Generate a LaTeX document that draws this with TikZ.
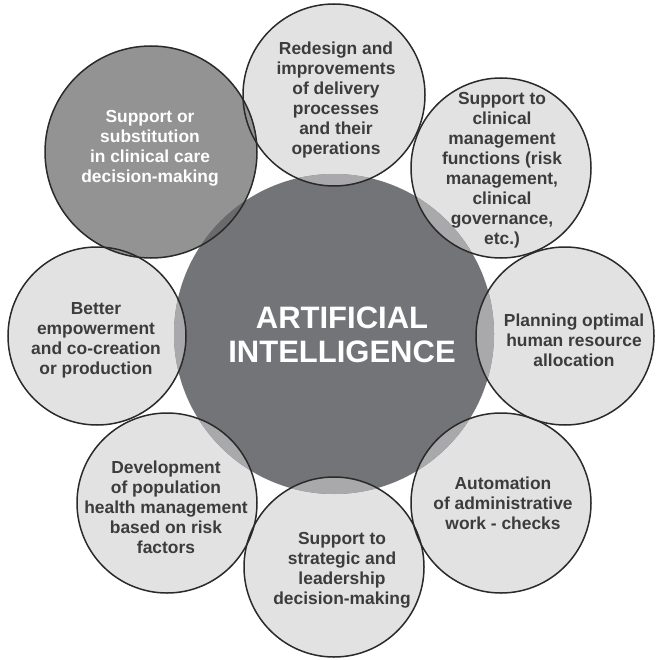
\documentclass[tikz,border=0pt]{standalone}
\usepackage{fontspec}
\setmainfont{Liberation Sans}
\definecolor{lightc}{HTML}{E2E2E3}
\definecolor{overc}{HTML}{A9A9AB}
\definecolor{centc}{HTML}{737477}
\definecolor{darkc}{HTML}{939394}
\definecolor{darkover}{HTML}{6A6A6C}
\definecolor{edgec}{HTML}{2A2A2A}
\definecolor{txtc}{HTML}{3C3C3C}
\tikzset{
  otext/.style={align=center, text=txtc, font=\bfseries\fontsize{17.4}{20}\selectfont, inner sep=0pt},
  wtext/.style={align=center, text=white, font=\bfseries\fontsize{17.4}{20}\selectfont, inner sep=0pt},
  ctext/.style={align=center, text=white, font=\bfseries\fontsize{31}{34}\selectfont, inner sep=0pt},
  rim/.style={draw=edgec, line width=1.5pt}
}
\begin{document}
\begin{tikzpicture}[x=1pt,y=-1pt]
\useasboundingbox (0,0) rectangle (655,660);
\coordinate (cc) at (334,334);
\coordinate (c1) at (334,95);
\coordinate (c2) at (501,168);
\coordinate (c3) at (565,336);
\coordinate (c4) at (501,503);
\coordinate (c5) at (334,567);
\coordinate (c6) at (167,503);
\coordinate (c7) at (97,336);
\coordinate (c8) at (151,152);
% fills
\fill[lightc] (c1) circle[radius=91];
\fill[lightc] (c2) circle[radius=90];
\fill[lightc] (c3) circle[radius=89];
\fill[lightc] (c4) circle[radius=90];
\fill[lightc] (c5) circle[radius=90];
\fill[lightc] (c6) circle[radius=90];
\fill[lightc] (c7) circle[radius=89];
\fill[darkc] (c8) circle[radius=106];
\fill[centc] (cc) circle[radius=160];
\begin{scope}
\clip (cc) circle[radius=160];
\fill[overc] (c1) circle[radius=91];
\fill[overc] (c2) circle[radius=90];
\fill[overc] (c3) circle[radius=89];
\fill[overc] (c4) circle[radius=90];
\fill[overc] (c5) circle[radius=90];
\fill[overc] (c6) circle[radius=90];
\fill[overc] (c7) circle[radius=89];
\fill[darkover] (c8) circle[radius=106];
\end{scope}
% outlines
\draw[rim] (c1) circle[radius=91];
\draw[rim] (c2) circle[radius=90];
\draw[rim] (c3) circle[radius=89];
\draw[rim] (c4) circle[radius=90];
\draw[rim] (c5) circle[radius=90];
\draw[rim] (c6) circle[radius=90];
\draw[rim] (c7) circle[radius=89];
\draw[rim] (c8) circle[radius=106];
% texts
\node[ctext] (tc) at (342,335) {ARTIFICIAL\\INTELLIGENCE};
\node[otext] (t1) at (336,100) {Redesign and\\improvements\\of delivery\\processes\\and their\\operations};
\node[otext] (t2) at (502,170) {Support to\\clinical\\management\\functions (risk\\management,\\clinical\\governance,\\etc.)};
\node[otext] (t3) at (574,340) {Planning optimal\\human resource\\allocation};
\node[otext] (t4) at (503,503) {Automation\\of administrative\\work - checks};
\node[otext] (t5) at (342,570) {Support to\\strategic and\\leadership\\decision-making};
\node[otext] (t6) at (166,507) {Development\\of population\\health management\\based on risk\\factors};
\node[otext] (t7) at (96,340) {Better\\empowerment\\and co-creation\\or production};
\node[wtext] (t8) at (150,148) {Support or\\substitution\\in clinical care\\decision-making};
\end{tikzpicture}
\end{document}
